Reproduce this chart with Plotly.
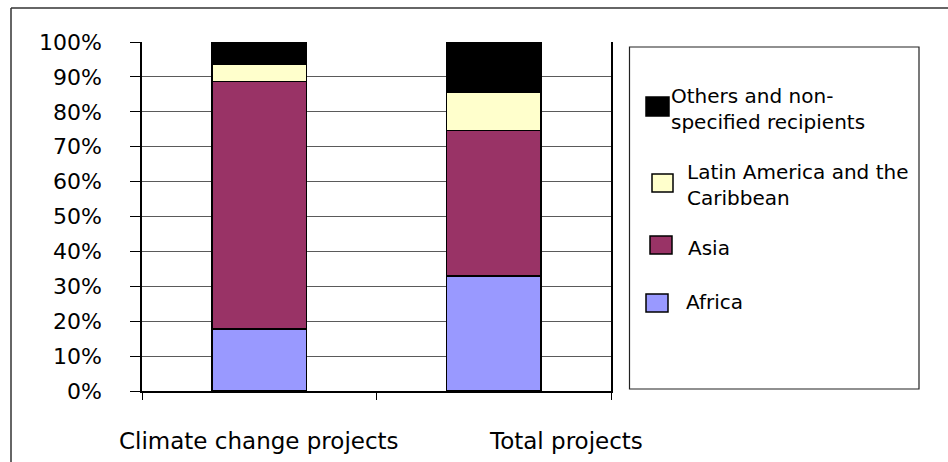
import plotly.graph_objects as go

# --- data -------------------------------------------------------------
categories = ["Climate change projects", "Total projects"]
series_names = ["Africa", "Asia", "Latin America and the Caribbean",
                "Others and non-specified recipients"]
africa = [17.7, 33.0]
asia = [71.0, 41.6]
latin_america = [4.8, 11.0]
others = [6.5, 14.4]
y_ticks = [0, 10, 20, 30, 40, 50, 60, 70, 80, 90, 100]
y_tick_labels = [f"{v}%" for v in y_ticks]

colors = ["#9999FF", "#993366", "#FFFFCC", "#000000"]
series_values = [africa, asia, latin_america, others]

# --- geometry (pixels) --------------------------------------------------
W, H = 948, 462
PL, PR, PT, PB = 142, 611, 42, 391
FONT = "DejaVu Sans"


def px(x):
    return (x - PL) / (PR - PL)


def py(y):
    return (PB - y) / (PB - PT)


fig = go.Figure()
for name, vals, col in zip(series_names, series_values, colors):
    fig.add_trace(go.Bar(
        x=categories, y=vals, name=name, width=0.405,
        marker=dict(color=col, line=dict(color="#000000", width=1.5)),
        showlegend=False,
    ))

shapes = []
annotations = []

# outer chart frame (top and left edges)
shapes.append(dict(type="line", xref="paper", yref="paper",
                   x0=px(11), x1=px(W + 5), y0=py(8), y1=py(8),
                   line=dict(color="#333333", width=1.5)))
shapes.append(dict(type="line", xref="paper", yref="paper",
                   x0=px(11), x1=px(11), y0=py(8), y1=py(H + 5),
                   line=dict(color="#333333", width=1.5)))

# legend box
shapes.append(dict(type="rect", xref="paper", yref="paper",
                   x0=px(629.5), x1=px(919), y0=py(47), y1=py(389),
                   line=dict(color="#222222", width=1.2), fillcolor="rgba(0,0,0,0)"))

# legend entries, top to bottom
legend_order = [3, 2, 1, 0]
legend_labels = ["Others and non-<br>specified recipients",
                 "Latin America and the<br>Caribbean",
                 "Asia", "Africa"]
swatch_boxes = [(646, 97, 669, 116), (652, 174, 673, 192),
                (650, 236, 672, 254), (646, 294, 668, 312)]
text_pos = [(669, 109), (685, 185), (686, 248), (684, 302)]
for idx, label, box, tp in zip(legend_order, legend_labels, swatch_boxes, text_pos):
    x0, y0, x1, y1 = box
    shapes.append(dict(type="rect", xref="paper", yref="paper",
                       x0=px(x0), x1=px(x1), y0=py(y1), y1=py(y0),
                       fillcolor=colors[idx],
                       line=dict(color="#000000", width=1.5)))
    annotations.append(dict(xref="paper", yref="paper", x=px(tp[0]), y=py(tp[1]),
                            text=label, showarrow=False, xanchor="left",
                            yanchor="middle", align="left",
                            font=dict(family=FONT, size=20, color="#000000")))

# category labels under the axis
label_shift = [0, 72]
for cat, shift in zip(categories, label_shift):
    annotations.append(dict(xref="x", yref="paper", x=cat, y=py(441), xshift=shift,
                            text=cat, showarrow=False, xanchor="center",
                            yanchor="middle",
                            font=dict(family=FONT, size=23, color="#000000")))

fig.update_layout(
    width=W, height=H,
    margin=dict(l=PL, r=W - PR, t=PT, b=H - PB, pad=0),
    barmode="stack", bargap=0.595,
    paper_bgcolor="white", plot_bgcolor="white",
    font=dict(family=FONT, color="#000000"),
    shapes=shapes, annotations=annotations,
    showlegend=False,
    xaxis=dict(
        range=[-0.5, 1.5],
        showticklabels=False, ticks="outside", ticklen=7, tickwidth=1.2,
        tickcolor="#000000", tickson="boundaries",
        showline=True, linecolor="#000000", linewidth=1.5,
        showgrid=False, zeroline=False, fixedrange=True,
    ),
    yaxis=dict(
        range=[0, 100], tickvals=y_ticks, ticktext=y_tick_labels,
        ticks="outside", ticklen=10, tickwidth=1.2, tickcolor="#000000",
        ticklabelstandoff=24,
        tickfont=dict(family=FONT, size=22, color="#000000"),
        showline=True, linecolor="#000000", linewidth=1.5, mirror=True,
        showgrid=True, gridcolor="#5a5a5a", gridwidth=1.3,
        zeroline=False, fixedrange=True,
    ),
)

fig.write_html("out.html")
